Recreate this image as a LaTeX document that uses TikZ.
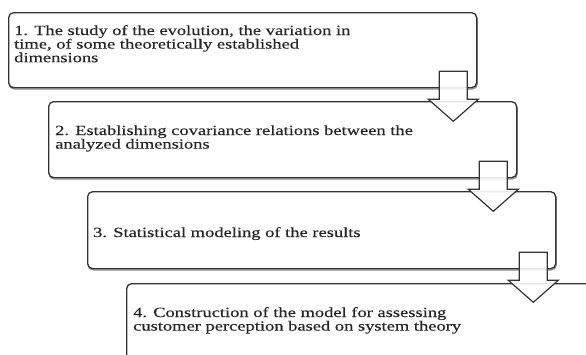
\documentclass[tikz,border=0pt]{standalone}
\usepackage{fontspec}
\setmainfont{Liberation Serif}[FakeStretch=1.32,FakeBold=0.3]
\usetikzlibrary{calc}
\newcommand{\tblines}[1]{\vtop{\baselineskip=13.6pt\lineskiplimit=-20pt\lineskip=0pt #1}}
\tikzset{
  stepbox/.style={draw=black!80, line width=1.3pt, rounded corners=5pt, fill=white,
    anchor=north west, inner sep=0pt, minimum width=468pt,
    preaction={draw=black!45, line width=1.3pt, transform canvas={shift={(0.6pt,-1.3pt)}}}},
  steptext/.style={anchor=base west, inner sep=0pt, text=black!85,
    font=\fontsize{14}{13.6}\selectfont},
  blockarrow/.style={draw=black!80, line width=1.2pt, fill=white, fill opacity=0.88, line join=miter}
}
\newcommand{\blockarr}[1]{%
  \path[blockarrow] ($(#1)+(-14,-17)$) -- ($(#1)+(14,-17)$) -- ($(#1)+(14,11)$) -- ($(#1)+(25,11)$)
    -- ($(#1)+(0,33)$) -- ($(#1)+(-25,11)$) -- ($(#1)+(-14,11)$) -- cycle;}
\begin{document}
\begin{tikzpicture}[x=1pt,y=-1pt]
\useasboundingbox (0,0) rectangle (586,354);
\clip (0,0) rectangle (586,354);
\node[stepbox, minimum height=75pt] (b1) at (8,12) {};
\node[stepbox, minimum height=76pt] (b2) at (48,101) {};
\node[stepbox, minimum height=77pt] (b3) at (87,191) {};
\node[stepbox, minimum height=100pt] (b4) at (126,283) {};
\node[steptext] (t1) at (14,35) {\tblines{\hbox{1. The study of the evolution, the variation in}\hbox{time, of some theoretically established}\hbox{dimensions}}};
\node[steptext] (t2) at (55,135) {\tblines{\hbox{2. Establishing covariance relations between the}\hbox{analyzed dimensions}}};
\node[steptext] (t3) at (93,237) {\tblines{\hbox{3. Statistical modeling of the results}}};
\node[steptext] (t4) at (133,317) {\tblines{\hbox{4. Construction of the model for assessing}\hbox{customer perception based on system theory}}};
\coordinate (a1) at ($(b1.south east)+(-24,0)$);
\coordinate (a2) at ($(b2.south east)+(-24,0)$);
\coordinate (a3) at ($(b3.south east)+(-23,0)$);
\blockarr{a1}
\blockarr{a2}
\blockarr{a3}
\end{tikzpicture}
\end{document}
